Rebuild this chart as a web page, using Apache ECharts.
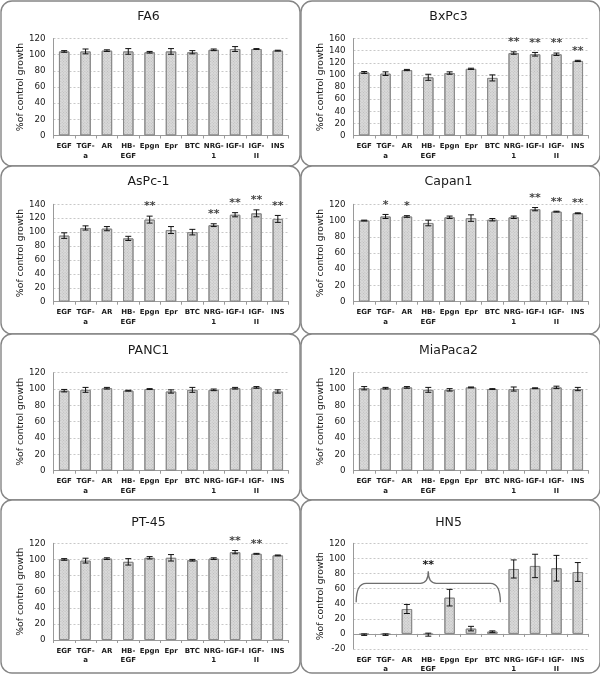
<!DOCTYPE html>
<html>
<head>
<meta charset="utf-8">
<script src="https://cdn.jsdelivr.net/npm/echarts@6/dist/echarts.min.js"></script>
<style>
html,body{margin:0;padding:0;background:#fff;}
#chart{width:600px;height:674px;}
</style>
</head>
<body>
<div id="chart"></div>
<script>
// ---------- data ----------
const categories = ['EGF', 'TGF-\na', 'AR', 'HB-\nEGF', 'Epgn', 'Epr', 'BTC', 'NRG-\n1', 'IGF-I', 'IGF-\nII', 'INS'];
const yAxisTitle = '%of control growth';

const fa6Values  = [104, 104, 105, 104, 103, 104, 103, 106, 107, 107, 105];
const fa6Errors  = [1, 3, 1, 3.5, 1, 3.5, 2, 1, 3, 0.5, 0.5];
const fa6Stars   = ['', '', '', '', '', '', '', '', '', '', ''];

const bxpc3Values = [104, 102, 108, 96, 103, 110, 95, 136, 134, 134, 123];
const bxpc3Errors = [1.5, 3, 1, 5, 2, 1, 5, 2, 3, 2, 1];
const bxpc3Stars  = ['', '', '', '', '', '', '', '**', '**', '**', '**'];

const aspc1Values = [95, 106, 105, 91, 118, 103, 100, 110, 125, 127, 119];
const aspc1Errors = [4, 3, 3, 3, 5, 5, 4, 2, 3, 5, 5];
const aspc1Stars  = ['', '', '', '', '**', '', '', '**', '**', '**', '**'];

const capan1Values = [100, 105, 105, 97, 104, 103, 101, 104, 114, 111, 109];
const capan1Errors = [0.5, 2.5, 1, 3.5, 1.5, 4, 1.5, 1.5, 2, 0.5, 0.5];
const capan1Stars  = ['', '*', '*', '', '', '', '', '', '**', '**', '**'];

const panc1Values = [98, 99, 101, 98, 100, 97, 99, 99, 101, 102, 97];
const panc1Errors = [1.5, 3, 1, 0.5, 0.5, 2, 3, 1, 1, 1, 2];
const panc1Stars  = ['', '', '', '', '', '', '', '', '', '', ''];

const miapaca2Values = [101, 101, 102, 99, 99, 102, 100, 100, 101, 102, 100];
const miapaca2Errors = [2, 1, 1, 3, 1.5, 0.5, 0.5, 2.5, 0.5, 1.5, 2];
const miapaca2Stars  = ['', '', '', '', '', '', '', '', '', '', ''];

const pt45Values = [100, 98.5, 101, 97, 102, 102, 99, 101, 109, 107, 105];
const pt45Errors = [1, 3, 1, 4, 1.5, 4, 1, 1, 2, 0.5, 0.5];
const pt45Stars  = ['', '', '', '', '', '', '', '', '**', '**', ''];

const hn5Values = [-1, -1, 33, -1, 48, 7, 3, 86, 90, 87, 82];
const hn5Errors = [1, 1, 6, 2, 11, 3, 1, 12, 15.5, 17, 12.5];
const hn5Stars  = ['', '', '', '', '', '', '', '', '', '', ''];
const hn5BraceRange = [0, 6];
const hn5BraceStars = '**';

const panels = [
  {title: 'FA6',      values: fa6Values,      errors: fa6Errors,      stars: fa6Stars,      yMin: 0,   yMax: 120},
  {title: 'BxPc3',    values: bxpc3Values,    errors: bxpc3Errors,    stars: bxpc3Stars,    yMin: 0,   yMax: 160},
  {title: 'AsPc-1',   values: aspc1Values,    errors: aspc1Errors,    stars: aspc1Stars,    yMin: 0,   yMax: 140},
  {title: 'Capan1',   values: capan1Values,   errors: capan1Errors,   stars: capan1Stars,   yMin: 0,   yMax: 120},
  {title: 'PANC1',    values: panc1Values,    errors: panc1Errors,    stars: panc1Stars,    yMin: 0,   yMax: 120},
  {title: 'MiaPaca2', values: miapaca2Values, errors: miapaca2Errors, stars: miapaca2Stars, yMin: 0,   yMax: 120},
  {title: 'PT-45',    values: pt45Values,     errors: pt45Errors,     stars: pt45Stars,     yMin: 0,   yMax: 120},
  {title: 'HN5',      values: hn5Values,      errors: hn5Errors,      stars: hn5Stars,      yMin: -20, yMax: 120}
];

// ---------- layout ----------
const colX = [1, 301];
const colW = 299;
const rows = [
  {top: 1,   h: 165, gridTop: 38.5,  gridBottom: [135.5, 135.5], titleY: 17},
  {top: 166, h: 168, gridTop: 204.3, gridBottom: [301.7, 301.7], titleY: 182.5},
  {top: 334, h: 166, gridTop: 372.7, gridBottom: [470.7, 470.7], titleY: 351.5},
  {top: 500, h: 173, gridTop: 543.3, gridBottom: [640, 656.7],   titleY: 523}
];
const FONT = 'DejaVu Sans, Verdana, sans-serif';

const grids = [], xAxes = [], yAxes = [], titles = [], series = [], graphics = [];

panels.forEach((p, i) => {
  const c = i % 2, r = Math.floor(i / 2);
  const row = rows[r];
  const x0 = colX[c];
  graphics.push({
    type: 'rect', z: 0,
    shape: {x: x0, y: row.top, width: colW, height: row.h, r: 11},
    style: {fill: '#fff', stroke: '#858585', lineWidth: 1.4}
  });
  titles.push({
    text: p.title, left: x0 + colW / 2 - 2, top: row.titleY - 7, textAlign: 'center', padding: 0,
    textStyle: {fontFamily: FONT, fontSize: 12.5, fontWeight: 'normal', color: '#1a1a1a'}
  });
  const gTop = row.gridTop, gBot = row.gridBottom[c];
  grids.push({left: x0 + 52.5, top: gTop, width: 235, height: gBot - gTop, containLabel: false});
  xAxes.push({
    type: 'category', gridIndex: i, data: categories,
    axisLine: {show: true, lineStyle: {color: '#9a9a9a', width: 1}},
    axisTick: {show: true, length: 3, lineStyle: {color: '#9a9a9a'}},
    axisLabel: {interval: 0, margin: 6, fontFamily: FONT, fontSize: 7, fontWeight: 'bold', color: '#1a1a1a', lineHeight: 9.5},
    splitLine: {show: false}
  });
  yAxes.push({
    type: 'value', gridIndex: i, min: p.yMin, max: p.yMax, interval: 20,
    name: yAxisTitle, nameLocation: 'middle', nameGap: 27,
    nameTextStyle: {fontFamily: FONT, fontSize: 9.3, color: '#1a1a1a'},
    axisLine: {show: true, lineStyle: {color: '#9a9a9a', width: 1}},
    axisTick: {show: false},
    axisLabel: {margin: 8, fontFamily: FONT, fontSize: 8.7, color: '#1a1a1a'},
    splitLine: {show: true, lineStyle: {color: '#c8c8c8', type: [2, 2], width: 1}}
  });
  series.push({
    type: 'bar', xAxisIndex: i, yAxisIndex: i, data: p.values, barWidth: '49%',
    itemStyle: {
      color: '#dadada', borderColor: '#8a8a8a', borderWidth: 1,
      decal: {symbol: 'rect', symbolSize: 1, color: 'rgba(150,150,150,0.45)', dashArrayX: [1, 1], dashArrayY: [1, 1], rotation: Math.PI / 4}
    },
    silent: true, z: 2
  });
  series.push({
    type: 'custom', xAxisIndex: i, yAxisIndex: i, z: 5, silent: true,
    data: p.values.map((v, k) => [k, v - p.errors[k], v + p.errors[k]]),
    encode: {x: 0, y: [1, 2]},
    renderItem: (params, api) => {
      const k = api.value(0);
      const lo = api.coord([k, api.value(1)]);
      const hi = api.coord([k, api.value(2)]);
      const hw = 3;
      const st = {stroke: '#111', lineWidth: 1};
      return {type: 'group', children: [
        {type: 'line', shape: {x1: lo[0], y1: lo[1], x2: hi[0], y2: hi[1]}, style: st},
        {type: 'line', shape: {x1: lo[0] - hw, y1: lo[1], x2: lo[0] + hw, y2: lo[1]}, style: st},
        {type: 'line', shape: {x1: hi[0] - hw, y1: hi[1], x2: hi[0] + hw, y2: hi[1]}, style: st}
      ]};
    }
  });
  const starData = [];
  p.stars.forEach((s, k) => { if (s) starData.push([k, p.values[k] + p.errors[k], s]); });
  if (starData.length) {
    series.push({
      type: 'scatter', xAxisIndex: i, yAxisIndex: i, data: starData, symbolSize: 0, silent: true, z: 6,
      label: {show: true, position: 'top', distance: 4, formatter: (q) => q.value[2],
        fontFamily: FONT, fontSize: 11, fontWeight: 'bold', color: '#111'}
    });
  }
});

// brace annotation for HN5
const hnIdx = 7;
const hnPanel = panels[hnIdx];
let braceMax = -Infinity;
for (let k = hn5BraceRange[0]; k <= hn5BraceRange[1]; k++) braceMax = Math.max(braceMax, hnPanel.values[k] + hnPanel.errors[k]);
series.push({
  type: 'custom', xAxisIndex: hnIdx, yAxisIndex: hnIdx, z: 7, silent: true,
  data: [[hn5BraceRange[0], hn5BraceRange[1], braceMax]],
  encode: {x: [0, 1], y: 2},
  renderItem: (params, api) => {
    const a = api.coord([api.value(0), api.value(2)]);
    const b = api.coord([api.value(1), api.value(2)]);
    const mid = api.coord([(api.value(0) + api.value(1)) / 2, api.value(2)]);
    const xl = a[0] - 8, xr = b[0] + 8, xm = mid[0];
    const hy = a[1] - 6, by = hy + 19, py = hy - 12;
    const d = 'M' + xl + ' ' + by +
      ' Q' + xl + ' ' + hy + ' ' + (xl + 10) + ' ' + hy +
      ' L' + (xm - 8) + ' ' + hy +
      ' Q' + xm + ' ' + hy + ' ' + xm + ' ' + py +
      ' Q' + xm + ' ' + hy + ' ' + (xm + 8) + ' ' + hy +
      ' L' + (xr - 10) + ' ' + hy +
      ' Q' + xr + ' ' + hy + ' ' + xr + ' ' + by;
    return {type: 'group', children: [
      {type: 'path', shape: {pathData: d}, style: {fill: 'none', stroke: '#6e6e6e', lineWidth: 1.3}},
      {type: 'text', style: {text: hn5BraceStars, x: xm, y: py - 1, textAlign: 'center', textVerticalAlign: 'bottom',
        font: 'bold 11px ' + FONT, fill: '#111'}}
    ]};
  }
});

const chart = echarts.init(document.getElementById('chart'), null, {renderer: 'canvas'});
chart.setOption({
  backgroundColor: '#fff',
  animation: false,
  title: titles,
  grid: grids,
  xAxis: xAxes,
  yAxis: yAxes,
  graphic: {elements: graphics},
  series: series
});
</script>
</body>
</html>
